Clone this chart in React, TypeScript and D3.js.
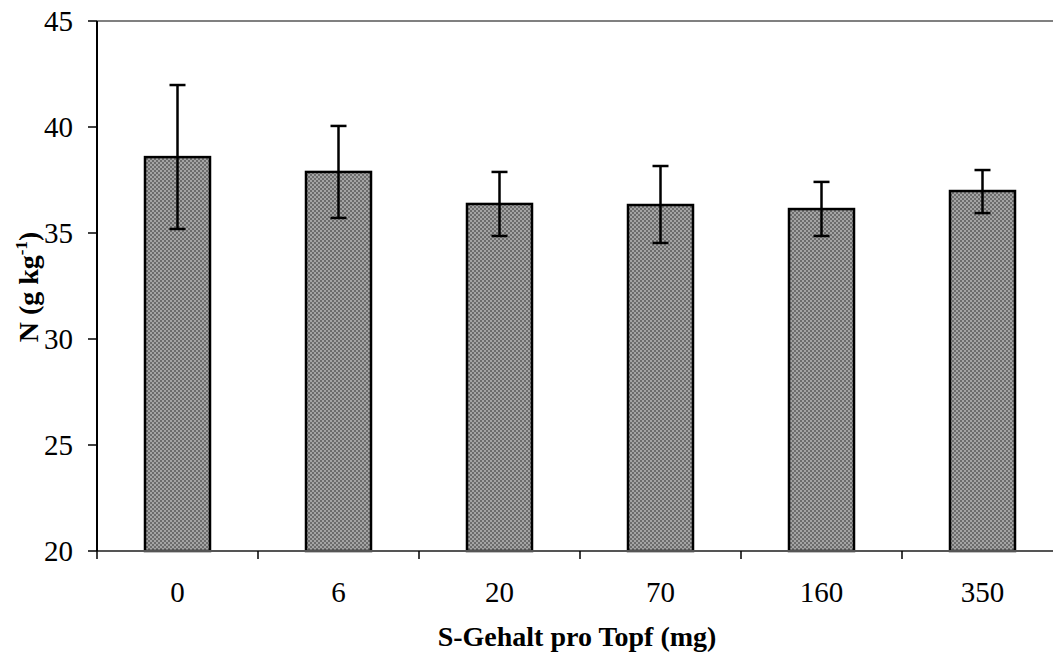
import React from "react";
import * as d3 from "d3";

const categories = ["0", "6", "20", "70", "160", "350"];
const means = [38.58, 37.88, 36.37, 36.32, 36.13, 36.98];
const errUpper = [41.98, 40.05, 37.88, 38.16, 37.41, 37.97];
const errLower = [35.19, 35.71, 34.86, 34.53, 34.86, 35.94];
const yTicks = [20, 25, 30, 35, 40, 45];

const W = 1053;
const H = 656;
const left = 97;
const top = 21;
const bottom = 551;
const right = 1063;

export default function App() {
  const x = d3.scaleBand<string>().domain(categories).range([left, right]).paddingInner(0).paddingOuter(0);
  const y = d3.scaleLinear().domain([20, 45]).range([bottom, top]);
  const bw = 65;
  const serif = "'Liberation Serif', 'Times New Roman', serif";
  const boundaries = d3.range(categories.length + 1).map((i) => left + i * x.step());

  return (
    <svg width={W} height={H} style={{ position: "fixed", left: 0, top: 0, background: "#fff" }} fontFamily={serif}>
      <defs>
        <pattern id="dither" width="4" height="4" patternUnits="userSpaceOnUse">
          <rect width="4" height="4" fill="#a4a4a4" />
          <rect width="2" height="2" fill="#6c6c6c" />
          <rect x="2" y="2" width="2" height="2" fill="#6c6c6c" />
        </pattern>
      </defs>
      <rect x={0} y={0} width={W} height={H} fill="#fff" />
      {/* top border */}
      <line x1={left} x2={W} y1={top} y2={top} stroke="#808080" strokeWidth={2} />
      {/* bars */}
      {categories.map((c, i) => {
        const cx = (x(c) as number) + x.bandwidth() / 2;
        return (
          <rect key={c} x={cx - bw / 2} y={y(means[i])} width={bw} height={y(20) - y(means[i])}
            fill="url(#dither)" stroke="#000" strokeWidth={2.5} />
        );
      })}
      {/* error bars */}
      {categories.map((c, i) => {
        const cx = (x(c) as number) + x.bandwidth() / 2;
        return (
          <g key={"e" + c} stroke="#000" strokeWidth={2.5}>
            <line x1={cx} x2={cx} y1={y(errUpper[i])} y2={y(errLower[i])} />
            <line x1={cx - 8} x2={cx + 8} y1={y(errUpper[i])} y2={y(errUpper[i])} />
            <line x1={cx - 8} x2={cx + 8} y1={y(errLower[i])} y2={y(errLower[i])} />
          </g>
        );
      })}
      {/* bottom axis */}
      <line x1={left} x2={W} y1={bottom} y2={bottom} stroke="#555" strokeWidth={2} />
      {boundaries.map((b, i) => (
        <line key={"bt" + i} x1={b} x2={b} y1={bottom} y2={bottom + 8} stroke="#000" strokeWidth={1.5} />
      ))}
      {categories.map((c) => (
        <text key={"xl" + c} x={(x(c) as number) + x.bandwidth() / 2} y={602} textAnchor="middle" fontSize={29} fill="#000">
          {c}
        </text>
      ))}
      {/* left axis */}
      <line x1={left} x2={left} y1={top} y2={bottom} stroke="#000" strokeWidth={2} />
      {yTicks.map((t) => (
        <g key={"yt" + t}>
          <line x1={left - 9} x2={left} y1={y(t)} y2={y(t)} stroke="#000" strokeWidth={1.5} />
          <text x={73} y={y(t)} dy="0.35em" textAnchor="end" fontSize={29} fill="#000">
            {t}
          </text>
        </g>
      ))}
      {/* axis titles */}
      <text x={577} y={646} textAnchor="middle" fontSize={28} fontWeight="bold" fill="#000">
        S-Gehalt pro Topf (mg)
      </text>
      <text transform={`translate(38, 287) rotate(-90)`} textAnchor="middle" fontSize={28} fontWeight="bold" fill="#000">
        N (g kg<tspan dy={-11} fontSize={17}>-1</tspan><tspan dy={11}>)</tspan>
      </text>
    </svg>
  );
}
